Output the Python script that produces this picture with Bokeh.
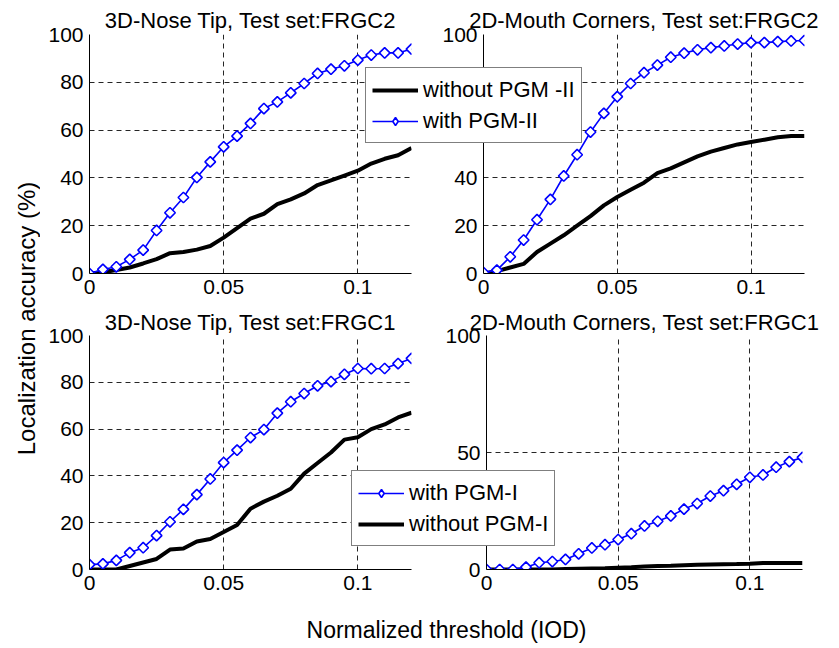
from bokeh.plotting import figure
from bokeh.layouts import row, column
from bokeh.models import (Range1d, FixedTicker, NumeralTickFormatter, Legend,
                          LegendItem, Label)
from bokeh.embed import file_html
from bokeh.resources import INLINE

# ---------------- data ----------------
thresholds = [0, 0.005, 0.01, 0.015, 0.02, 0.025, 0.03, 0.035, 0.04, 0.045,
              0.05, 0.055, 0.06, 0.065, 0.07, 0.075, 0.08, 0.085, 0.09, 0.095,
              0.1, 0.105, 0.11, 0.115, 0.12]

nose_frgc2_with = [0, 1.7, 2.8, 5.9, 9.8, 18, 25.4, 31.8, 40.2, 46.7, 53, 57.5,
                   62.8, 69, 71.8, 75.6, 79.5, 83.7, 85.5, 86.9, 89.3, 91.4,
                   92.3, 92.3, 93.9]
nose_frgc2_without = [0, 0.5, 1.5, 2.5, 4.2, 6, 8.5, 9, 10, 11.5, 15, 19, 23,
                      25, 29, 31, 33.5, 37, 39, 41, 43, 46, 48, 49.5, 52.5]

mouth_frgc2_with = [0.4, 1.4, 7, 14, 22.5, 31, 40.8, 49.7, 59.2, 67, 74, 79.5,
                    84, 87.2, 90.5, 92.2, 93.6, 94.5, 95.2, 96, 96.6, 96.6, 97,
                    97.3, 97.5]
mouth_frgc2_without = [0, 1, 2.5, 4, 9, 12.5, 16, 20, 24, 28.5, 32, 35, 38, 42,
                       44, 46.5, 49, 51, 52.5, 54, 55, 56, 57, 57.5, 57.5]

nose_frgc1_with = [2.1, 2.4, 3.9, 7.2, 9.3, 14.5, 20.4, 25.7, 32, 38.7, 45.7,
                   51, 56.4, 59.8, 66.8, 71.7, 75.2, 78.5, 80.3, 83.4, 85.9,
                   85.8, 85.9, 88, 90.2]
nose_frgc1_without = [0, 0, 0, 1.5, 3, 4.5, 8.5, 9, 12, 13, 16, 19, 26, 29,
                      31.5, 34.5, 41, 45.5, 50, 55.5, 56.5, 60, 62, 65, 67]

mouth_frgc1_with = [0, 0, 0, 1, 2.9, 3.4, 4.3, 6.7, 9.2, 10.6, 12.8, 15.3,
                    18.6, 20.6, 22.9, 25.8, 28.2, 31.4, 33.7, 36.4, 39.4, 40.4,
                    43.7, 46.1, 47.9]
mouth_frgc1_without = [0, 0, 0, 0, 0, 0, 0.2, 0.3, 0.4, 0.5, 0.8, 1.0, 1.3,
                       1.5, 1.6, 1.8, 2.0, 2.1, 2.2, 2.3, 2.5, 2.8, 2.8, 2.8,
                       2.8]

titles = ["3D-Nose Tip, Test set:FRGC2", "2D-Mouth Corners, Test set:FRGC2",
          "3D-Nose Tip, Test set:FRGC1", "2D-Mouth Corners, Test set:FRGC1"]
x_ticks = [0, 0.05, 0.1]
y_ticks_a = [0, 20, 40, 60, 80, 100]
y_ticks_b = [0, 50, 100]
legend_top = ["without PGM -II", "with PGM-II"]
legend_bottom = ["with PGM-I", "without PGM-I"]
x_label = "Normalized threshold (IOD)"
y_label = "Localization accuracy (%)"

FONT = "Liberation Sans"
BLUE = "#0000FF"


def draw_series(p, with_vals, without_vals, in_legend=False):
    r_without = p.line(thresholds, without_vals, line_color="black",
                       line_width=4)
    r_with_line = p.line(thresholds, with_vals, line_color=BLUE, line_width=1.6)
    if in_legend:
        r_with_mk = p.scatter(thresholds, with_vals, marker="diamond", size=14,
                              line_color=BLUE, line_width=1.6,
                              fill_color="white")
    else:
        r_with_mk = p.scatter(thresholds, with_vals, marker="square", size=7.5,
                              angle=0.785398, line_color=BLUE, line_width=1.6,
                              fill_color="white")
    return r_without, r_with_line, r_with_mk


def blank(width, height, margin=None, xr=(0, 1)):
    f = figure(width=width, height=height, x_range=Range1d(*xr),
               y_range=Range1d(0, 100), toolbar_location=None,
               output_backend="svg", min_border=0, x_axis_type=None,
               y_axis_type=None, outline_line_color=None,
               background_fill_color=None, border_fill_color=None,
               title_location=None)
    f.grid.visible = False
    if margin is not None:
        f.margin = margin
    return f


def panel(title, with_vals, without_vals, yticks, width, height, bl, br, bt, bb,
          margin=None, title_standoff=4):
    p = figure(width=width, height=height, x_range=Range1d(0, 0.12),
               y_range=Range1d(0, 100), toolbar_location=None,
               output_backend="svg", min_border_left=bl, min_border_right=br,
               min_border_top=bt, min_border_bottom=bb)
    p.title.text = title
    p.title.text_font = FONT
    p.title.text_font_size = "22px"
    p.title.text_font_style = "normal"
    p.title.text_color = "black"
    p.title.align = "center"
    p.title.standoff = title_standoff
    p.outline_line_color = None
    p.background_fill_color = "white"
    p.border_fill_color = None
    p.border_fill_alpha = 0
    for ax in (p.xaxis[0], p.yaxis[0]):
        ax.major_tick_out = 0
        ax.major_tick_in = 0
        ax.minor_tick_out = 0
        ax.minor_tick_in = 0
        ax.axis_line_color = "black"
        ax.axis_line_width = 1
        ax.major_label_text_font = FONT
        ax.major_label_text_font_size = "21px"
        ax.major_label_text_color = "black"
        ax.major_label_standoff = 6
    p.xaxis.ticker = FixedTicker(ticks=x_ticks)
    p.xaxis.formatter = NumeralTickFormatter(format="0.[00]")
    p.yaxis.ticker = FixedTicker(ticks=yticks)
    for g in p.grid:
        g.grid_line_color = "black"
        g.grid_line_alpha = 0.85
        g.grid_line_dash = "5 4"
        g.grid_line_width = 1
    draw_series(p, with_vals, without_vals)
    if margin is not None:
        p.margin = margin
    return p


def legend_figure(labels, black_first, height, margin, loc, with_vals,
                  without_vals):
    # transparent overlay; its own series copies lie outside its x-range
    f = blank(240, height, margin, xr=(1, 2))
    r_without, r_line, r_mk = draw_series(f, with_vals, without_vals,
                                          in_legend=True)
    if black_first:
        items = [LegendItem(label=labels[0], renderers=[r_without]),
                 LegendItem(label=labels[1], renderers=[r_line, r_mk])]
    else:
        items = [LegendItem(label=labels[0], renderers=[r_line, r_mk]),
                 LegendItem(label=labels[1], renderers=[r_without])]
    leg = Legend(items=items, location=loc)
    leg.margin = 0
    leg.label_text_font = FONT
    leg.label_text_font_size = "22px"
    leg.label_text_color = "black"
    leg.glyph_width = 46
    leg.glyph_height = 20
    leg.label_height = 31
    leg.label_standoff = 5
    leg.padding = 6
    leg.spacing = 0
    leg.border_line_color = "black"
    leg.border_line_width = 1
    leg.background_fill_color = "white"
    leg.background_fill_alpha = 1
    f.add_layout(leg)
    return f


# top row (starts at x=40, y=0), height 307
p1 = panel(titles[0], nose_frgc2_with, nose_frgc2_without, y_ticks_a,
           390, 307, 49, 19, 34, 34)
p2 = panel(titles[1], mouth_frgc2_with, mouth_frgc2_without, y_ticks_a,
           479, 307, 123, 35, 34, 34, margin=(0, 0, 0, -70))
lf1 = legend_figure(legend_top, True, 307, (0, 234, 0, -474), (0, 130),
                    mouth_frgc2_with, mouth_frgc2_without)

# bottom row (starts at y=307), height 298
p3 = panel(titles[2], nose_frgc1_with, nose_frgc1_without, y_ticks_a,
           390, 298, 49, 19, 27, 34, title_standoff=1)
p4 = panel(titles[3], mouth_frgc1_with, mouth_frgc1_without, y_ticks_b,
           499, 298, 146, 37, 27, 36, margin=(0, 0, 0, -90), title_standoff=1)
lf2 = legend_figure(legend_bottom, False, 298, (0, 248, 0, -488), (0, 23),
                    mouth_frgc1_with, mouth_frgc1_without)

# shared axis labels
ylab = blank(40, 648)
ylab.add_layout(Label(x=26, y=648 - 318, x_units="screen", y_units="screen",
                      text=y_label, angle=1.5707963, text_align="center",
                      text_baseline="middle", text_font=FONT,
                      text_font_size="24px", text_color="black"))

xlab = blank(799, 43)
xlab.add_layout(Label(x=406, y=43 - 24, x_units="screen", y_units="screen",
                      text=x_label, text_align="center",
                      text_baseline="middle", text_font=FONT,
                      text_font_size="23px", text_color="black"))

layout = row(ylab, column(row(p1, p2, lf1), row(p3, p4, lf2), xlab))

open("out.html", "w").write(file_html(layout, INLINE))
